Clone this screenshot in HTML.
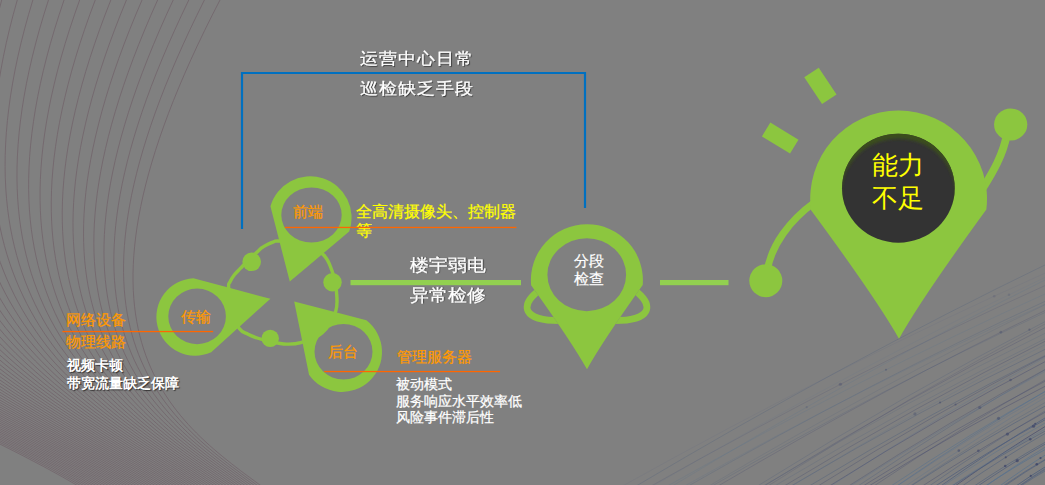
<!DOCTYPE html>
<html><head><meta charset="utf-8"><style>
html,body{margin:0;padding:0;}
body{width:1045px;height:485px;overflow:hidden;background:#808080;position:relative;font-family:"Liberation Sans",sans-serif;}
svg{position:absolute;left:0;top:0;}
.t{position:absolute;white-space:nowrap;line-height:1;}
</style></head><body>
<svg width="1045" height="485" viewBox="0 0 1045 485">
<g fill="none" stroke="#6b5660" stroke-width="0.75" opacity="0.7"><path d="M220,0 C47.4,331.9 169.3,418.8 262.7,487"/><path d="M204.41,0 C38.12,330.51 164.74,418.14 259.6,487"/><path d="M188.81,0 C28.84,329.12 160.17,417.48 256.51,487"/><path d="M173.22,0 C19.57,327.74 155.61,416.83 253.41,487"/><path d="M157.63,0 C10.29,326.35 151.04,416.17 250.31,487"/><path d="M142.03,0 C1.01,324.96 146.48,415.51 247.22,487"/><path d="M126.44,0 C-8.27,323.57 141.91,414.85 244.12,487"/><path d="M110.85,0 C-17.55,322.18 137.35,414.2 241.02,487"/><path d="M95.25,0 C-26.82,320.79 132.78,413.54 237.93,487"/><path d="M79.66,0 C-36.1,319.41 128.22,412.88 234.83,487"/><path d="M64.07,0 C-45.38,318.02 123.66,412.22 231.73,487"/><path d="M48.47,0 C-54.66,316.63 119.09,411.57 228.64,487"/><path d="M32.88,0 C-63.94,315.24 114.53,410.91 225.54,487"/><path d="M17.29,0 C-73.21,313.85 109.96,410.25 222.44,487"/><path d="M1.69,0 C-82.49,312.47 105.4,409.59 219.35,487"/><path d="M-13.9,0 C-91.77,311.08 100.83,408.94 216.25,487"/><path d="M-29.49,0 C-101.05,309.69 96.27,408.28 213.15,487"/><path d="M-45.08,0 C-110.33,308.3 91.71,407.62 210.06,487"/><path d="M-60.68,0 C-119.6,306.91 87.14,406.96 206.96,487"/><path d="M-76.27,0 C-128.88,305.53 82.58,406.31 203.86,487"/><path d="M-91.86,0 C-138.16,304.14 78.01,405.65 200.77,487"/><path d="M-107.46,0 C-147.44,302.75 73.45,404.99 197.67,487"/><path d="M-123.05,0 C-156.72,301.36 68.88,404.33 194.57,487"/><path d="M-138.64,0 C-165.99,299.97 64.32,403.67 191.48,487"/><path d="M-154.24,0 C-175.27,298.58 59.75,403.02 188.38,487"/><path d="M-169.83,0 C-184.55,297.2 55.19,402.36 185.28,487"/><path d="M-185.42,0 C-193.83,295.81 50.63,401.7 182.19,487"/><path d="M-201.02,0 C-203.11,294.42 46.06,401.04 179.09,487"/><path d="M-216.61,0 C-212.38,293.03 41.5,400.39 175.99,487"/><path d="M-232.2,0 C-221.66,291.64 36.93,399.73 172.9,487"/><path d="M-247.8,0 C-230.94,290.26 32.37,399.07 169.8,487"/><path d="M-263.39,0 C-240.22,288.87 27.8,398.41 166.71,487"/><path d="M-278.98,0 C-249.49,287.48 23.24,397.76 163.61,487"/><path d="M-294.58,0 C-258.77,286.09 18.67,397.1 160.51,487"/><path d="M-310.17,0 C-268.05,284.7 14.11,396.44 157.42,487"/><path d="M-325.76,0 C-277.33,283.32 9.55,395.78 154.32,487"/><path d="M-341.36,0 C-286.61,281.93 4.98,395.13 151.22,487"/><path d="M-356.95,0 C-295.88,280.54 0.42,394.47 148.13,487"/><path d="M-372.54,0 C-305.16,279.15 -4.15,393.81 145.03,487"/><path d="M-388.14,0 C-314.44,277.76 -8.71,393.15 141.93,487"/><path d="M-403.73,0 C-323.72,276.37 -13.28,392.49 138.84,487"/><path d="M-419.32,0 C-333,274.99 -17.84,391.84 135.74,487"/><path d="M-434.92,0 C-342.27,273.6 -22.41,391.18 132.64,487"/><path d="M-450.51,0 C-351.55,272.21 -26.97,390.52 129.55,487"/><path d="M-466.1,0 C-360.83,270.82 -31.53,389.86 126.45,487"/><path d="M-481.69,0 C-370.11,269.43 -36.1,389.21 123.35,487"/><path d="M-497.29,0 C-379.39,268.05 -40.66,388.55 120.26,487"/><path d="M-512.88,0 C-388.66,266.66 -45.23,387.89 117.16,487"/><path d="M-528.47,0 C-397.94,265.27 -49.79,387.23 114.06,487"/><path d="M-544.07,0 C-407.22,263.88 -54.36,386.58 110.97,487"/><path d="M-559.66,0 C-416.5,262.49 -58.92,385.92 107.87,487"/><path d="M-575.25,0 C-425.78,261.11 -63.48,385.26 104.77,487"/><path d="M-590.85,0 C-435.05,259.72 -68.05,384.6 101.68,487"/><path d="M-606.44,0 C-444.33,258.33 -72.61,383.95 98.58,487"/><path d="M-622.03,0 C-453.61,256.94 -77.18,383.29 95.48,487"/><path d="M-637.63,0 C-462.89,255.55 -81.74,382.63 92.39,487"/><path d="M-653.22,0 C-472.17,254.16 -86.31,381.97 89.29,487"/><path d="M-668.81,0 C-481.44,252.78 -90.87,381.32 86.19,487"/><path d="M-684.41,0 C-490.72,251.39 -95.44,380.66 83.1,487"/><path d="M-700,0 C-500,250 -100,380 80,487"/></g>
<g fill="none"><path d="M634.48,487 Q850.12,359.08 1047,263.99" stroke="#4f5f7c" stroke-opacity="0.30" stroke-width="1.0"/><path d="M620.71,487 Q843.4,362.92 1047,272.26" stroke="#4f5f7c" stroke-opacity="0.19" stroke-width="0.6"/><path d="M651.5,487 Q858.21,366.06 1047,276.48" stroke="#55708e" stroke-opacity="0.19" stroke-width="0.6"/><path d="M670.68,487 Q867.44,367.96 1047,279.01" stroke="#55708e" stroke-opacity="0.22" stroke-width="1.0"/><path d="M649.31,487 Q857.08,370.23 1047,284.7" stroke="#4a4f70" stroke-opacity="0.36" stroke-width="0.6"/><path d="M665.67,487 Q864.89,375.07 1047,293.08" stroke="#55708e" stroke-opacity="0.37" stroke-width="0.6"/><path d="M686.59,487 Q874.91,379.51 1047,300.43" stroke="#4f5f7c" stroke-opacity="0.27" stroke-width="1.0"/><path d="M682.85,487 Q873.08,380.89 1047,303.33" stroke="#55708e" stroke-opacity="0.29" stroke-width="0.7"/><path d="M707.29,487 Q884.87,381.87 1047,303.75" stroke="#4f5f7c" stroke-opacity="0.27" stroke-width="0.7"/><path d="M716.4,487 Q889.2,385.18 1047,309.62" stroke="#4a4f70" stroke-opacity="0.34" stroke-width="0.8"/><path d="M710.34,487 Q886.26,385.98 1047,311.53" stroke="#4f5f7c" stroke-opacity="0.41" stroke-width="0.6"/><path d="M766.34,487 Q913.17,393.58 1047,322.91" stroke="#4a4f70" stroke-opacity="0.32" stroke-width="0.7"/><path d="M755.9,487 Q908.16,392.05 1047,320.58" stroke="#4f5f7c" stroke-opacity="0.41" stroke-width="0.7"/><path d="M762.24,487 Q911.16,395.37 1047,326.62" stroke="#4a4f70" stroke-opacity="0.44" stroke-width="0.7"/><path d="M761.64,487 Q910.81,398.32 1047,332.36" stroke="#4f5f7c" stroke-opacity="0.35" stroke-width="0.6"/><path d="M772.88,487 Q916.18,401.49 1047,337.83" stroke="#4f5f7c" stroke-opacity="0.39" stroke-width="0.6"/><path d="M782.48,487 Q920.79,403.08 1047,340.33" stroke="#4a4f70" stroke-opacity="0.36" stroke-width="1.0"/><path d="M790.25,487 Q924.51,405.04 1047,343.66" stroke="#55708e" stroke-opacity="0.34" stroke-width="0.6"/><path d="M789.31,487 Q924.01,407.48 1047,348.44" stroke="#4f5f7c" stroke-opacity="0.49" stroke-width="0.8"/><path d="M807.59,487 Q932.77,411.2 1047,354.55" stroke="#4f5f7c" stroke-opacity="0.43" stroke-width="1.0"/><path d="M816.36,487 Q936.99,411.83 1047,355.25" stroke="#4a4f70" stroke-opacity="0.49" stroke-width="0.8"/><path d="M829.37,487 Q943.26,412.77 1047,356.31" stroke="#55708e" stroke-opacity="0.47" stroke-width="0.6"/><path d="M827.81,487 Q942.47,414.95 1047,360.61" stroke="#4a4f70" stroke-opacity="0.47" stroke-width="1.0"/><path d="M847.06,487 Q951.68,419.59 1047,368.45" stroke="#4a4f70" stroke-opacity="0.53" stroke-width="0.7"/><path d="M856.46,487 Q956.21,420 1047,368.7" stroke="#4f5f7c" stroke-opacity="0.53" stroke-width="0.7"/><path d="M848.82,487 Q952.51,420.62 1047,370.34" stroke="#55708e" stroke-opacity="0.47" stroke-width="0.7"/><path d="M861.46,487 Q958.51,426.14 1047,380.26" stroke="#4a4f70" stroke-opacity="0.54" stroke-width="0.8"/><path d="M872.41,487 Q963.81,425.74 1047,378.86" stroke="#4a4f70" stroke-opacity="0.52" stroke-width="0.7"/><path d="M867.27,487 Q961.26,428.92 1047,385.3" stroke="#4a4f70" stroke-opacity="0.60" stroke-width="0.8"/><path d="M889.51,487 Q971.95,432.22 1047,390.38" stroke="#55708e" stroke-opacity="0.51" stroke-width="1.0"/><path d="M895.29,487 Q974.74,432.36 1047,390.31" stroke="#55708e" stroke-opacity="0.52" stroke-width="1.0"/><path d="M895.77,487 Q974.95,433.82 1047,393.1" stroke="#55708e" stroke-opacity="0.53" stroke-width="0.6"/><path d="M904.22,487 Q978.99,435.82 1047,396.47" stroke="#55708e" stroke-opacity="0.53" stroke-width="0.6"/><path d="M908.57,487 Q981.04,438.51 1047,401.41" stroke="#4f5f7c" stroke-opacity="0.54" stroke-width="0.6"/><path d="M909.45,487 Q981.43,440.42 1047,405.04" stroke="#4f5f7c" stroke-opacity="0.69" stroke-width="0.8"/><path d="M927.85,487 Q990.26,443.46 1047,409.85" stroke="#4f5f7c" stroke-opacity="0.64" stroke-width="0.7"/><path d="M920.92,487 Q986.9,443.96 1047,411.22" stroke="#4a4f70" stroke-opacity="0.59" stroke-width="0.8"/><path d="M939.29,487 Q995.72,447.39 1047,416.77" stroke="#4f5f7c" stroke-opacity="0.74" stroke-width="1.0"/><path d="M933.91,487 Q993.1,448.22 1047,418.68" stroke="#4f5f7c" stroke-opacity="0.74" stroke-width="1.0"/><path d="M941.3,487 Q996.63,450.15 1047,421.98" stroke="#55708e" stroke-opacity="0.64" stroke-width="0.7"/><path d="M953.59,487 Q1002.53,452.26 1047,425.35" stroke="#4a4f70" stroke-opacity="0.77" stroke-width="1.0"/><path d="M949.65,487 Q1000.6,453.53 1047,428.03" stroke="#55708e" stroke-opacity="0.64" stroke-width="0.7"/><path d="M950.53,487 Q1001.01,454.62 1047,430.07" stroke="#4f5f7c" stroke-opacity="0.75" stroke-width="0.8"/><path d="M960.66,487 Q1005.87,456.08 1047,432.32" stroke="#4f5f7c" stroke-opacity="0.70" stroke-width="0.8"/><path d="M972.75,487 Q1011.62,461.08 1047,441.25" stroke="#4f5f7c" stroke-opacity="0.75" stroke-width="0.8"/><path d="M976.35,487 Q1013.34,462.09 1047,443.01" stroke="#4f5f7c" stroke-opacity="0.74" stroke-width="1.0"/><path d="M983.75,487 Q1016.85,465.15 1047,448.48" stroke="#55708e" stroke-opacity="0.70" stroke-width="1.0"/><path d="M984.59,487 Q1017.29,463.92 1047,446.07" stroke="#55708e" stroke-opacity="0.75" stroke-width="0.8"/><path d="M998.35,487 Q1023.85,468.41 1047,453.93" stroke="#55708e" stroke-opacity="0.83" stroke-width="0.8"/><path d="M1003.18,487 Q1026.13,471.08 1047,458.81" stroke="#4f5f7c" stroke-opacity="0.86" stroke-width="0.7"/><path d="M1001.5,487 Q1025.33,470.75 1047,458.27" stroke="#4f5f7c" stroke-opacity="0.88" stroke-width="0.7"/><path d="M1014.54,487 Q1031.55,475.03 1047,465.77" stroke="#4f5f7c" stroke-opacity="0.84" stroke-width="1.0"/><path d="M1017.72,487 Q1033.06,476.01 1047,467.48" stroke="#4f5f7c" stroke-opacity="0.79" stroke-width="0.8"/><path d="M1019.43,487 Q1033.87,477.32 1047,469.91" stroke="#4f5f7c" stroke-opacity="0.93" stroke-width="0.6"/><path d="M1018.21,487 Q1033.29,476.56 1047,468.51" stroke="#4f5f7c" stroke-opacity="0.96" stroke-width="0.6"/></g>
<g fill="#3f4668"><circle cx="994.18" cy="296.19" r="1.3" fill-opacity="0.19"/><circle cx="1008.99" cy="294.75" r="1.3" fill-opacity="0.19"/><circle cx="806.71" cy="407.13" r="1.1" fill-opacity="0.22"/><circle cx="840.4" cy="384.27" r="1.6" fill-opacity="0.36"/><circle cx="885.98" cy="369.75" r="1.1" fill-opacity="0.37"/><circle cx="1000.84" cy="332.13" r="1.3" fill-opacity="0.34"/><circle cx="1029.45" cy="329.68" r="1.1" fill-opacity="0.41"/><circle cx="914.94" cy="413.89" r="1.6" fill-opacity="0.34"/><circle cx="940.04" cy="402.49" r="1.1" fill-opacity="0.49"/><circle cx="955.53" cy="404.48" r="1.1" fill-opacity="0.49"/><circle cx="1010.55" cy="379.93" r="1.3" fill-opacity="0.47"/><circle cx="979.77" cy="407.48" r="1.6" fill-opacity="0.47"/><circle cx="998.51" cy="418.3" r="1.6" fill-opacity="0.51"/><circle cx="958.83" cy="450.61" r="1.3" fill-opacity="0.53"/><circle cx="1007.48" cy="434.03" r="1.6" fill-opacity="0.64"/><circle cx="978.36" cy="450.81" r="1.3" fill-opacity="0.59"/><circle cx="1035.25" cy="423.86" r="1.1" fill-opacity="0.74"/><circle cx="1033.54" cy="426.16" r="1.6" fill-opacity="0.74"/><circle cx="1030.21" cy="439.21" r="1.3" fill-opacity="0.75"/><circle cx="1005.77" cy="457.29" r="1.1" fill-opacity="0.70"/><circle cx="1005.21" cy="466.04" r="1.3" fill-opacity="0.75"/><circle cx="1017.2" cy="460.64" r="1.6" fill-opacity="0.74"/><circle cx="1040.53" cy="458.03" r="1.1" fill-opacity="0.83"/><circle cx="1036.79" cy="464.29" r="1.3" fill-opacity="0.88"/><circle cx="1030.77" cy="475.96" r="1.1" fill-opacity="0.84"/></g>
<path d="M242,229 V73 H585 V208" fill="none" stroke="#0070C0" stroke-width="2.2" stroke-linejoin="miter"/>
<path d="M228.6,286.8 C228.4,282.17 228.83,284.2 229.8,282.2 C230.77,280.2 232.6,277.13 234.4,274.8 C236.2,272.47 238.17,270.75 240.6,268.2 C243.03,265.65 246.18,262.23 249,259.5 C251.82,256.77 255.47,253.7 257.5,251.8 C259.53,249.9 259.55,249.33 261.2,248.1 C262.85,246.87 265.33,245.43 267.4,244.4 C269.47,243.37 271.85,242.47 273.6,241.9 C275.35,241.33 273.5,240.82 277.9,241 C282.3,241.18 292.4,240.68 300,243 C307.6,245.32 318.13,250.17 323.5,254.9 C328.87,259.63 330.37,266.88 332.2,271.4 C334.03,275.92 333.78,278.63 334.5,282 C335.22,285.37 336.3,286.7 336.5,291.6 C336.7,296.5 338.12,304.5 335.7,311.4 C333.28,318.3 327.82,327.8 322,333 C316.18,338.2 306.75,340.75 300.8,342.6 C294.85,344.45 291.4,344.28 286.3,344.1 C281.2,343.92 275.05,342.52 270.2,341.5 C265.35,340.48 260.9,339.22 257.2,338 C253.5,336.78 250.95,335.73 248,334.2 C245.05,332.67 242.33,332.83 239.5,328.8 C236.67,324.77 232.82,317 231,310 C229.18,303 228.8,291.43 228.6,286.8 Z" fill="none" stroke="#8CC63F" stroke-width="3.4"/>
<circle cx="251.7" cy="261.8" r="9.3" fill="#8CC63F"/>
<circle cx="332.5" cy="282.2" r="9.2" fill="#8CC63F"/>
<circle cx="270.2" cy="338.4" r="8.7" fill="#8CC63F"/>
<path fill="#8CC63F" fill-rule="evenodd" d="M270.44,206.36 A41.35,41.35 0 1 1 349.18,231.49 Q319.49,256.55 289.8,281.6 Q280.12,243.98 270.44,206.36 Z M281.3,215 A30.2,27.5 0 1 0 341.7,215 A30.2,27.5 0 1 0 281.3,215 Z"/>
<path fill="#8CC63F" fill-rule="evenodd" d="M211.2,352.19 A38.7,38.7 0 1 1 193.35,278.34 Q231.88,288.57 270.4,298.8 Q240.8,325.5 211.2,352.19 Z M168.3,316.4 A28.8,27.8 0 1 0 225.9,316.4 A28.8,27.8 0 1 0 168.3,316.4 Z"/>
<path fill="#8CC63F" fill-rule="evenodd" d="M366.36,320.27 A40,40 0 1 1 309.03,374.65 Q301.61,338.12 294.2,301.6 Q330.28,310.94 366.36,320.27 Z M314.5,351.7 A29,27.8 0 1 0 372.5,351.7 A29,27.8 0 1 0 314.5,351.7 Z"/>
<rect x="350.5" y="280" width="170.5" height="5.2" fill="#92D050"/>
<rect x="660" y="280" width="68.5" height="5.2" fill="#92D050"/>
<defs><mask id="orb" maskUnits="userSpaceOnUse" x="0" y="0" width="1045" height="485"><rect width="1045" height="485" fill="#fff"/><path fill="#000" d="M531.12,285.14 A56,56 0 1 1 642.69,285.02 Q601.53,342.9 587,369.3 Q572.41,342.94 531.12,285.14 Z"/></mask></defs>
<defs><clipPath id="cl"><rect x="0" y="0" width="587" height="485"/></clipPath><clipPath id="cr"><rect x="587" y="0" width="458" height="485"/></clipPath></defs>
<g mask="url(#orb)" fill="none" stroke="#8CC63F" stroke-width="6.7"><g clip-path="url(#cl)"><ellipse cx="0" cy="0" rx="75.3" ry="24.6" transform="translate(600,289.5) rotate(-15.4)"/></g><g clip-path="url(#cr)"><ellipse cx="0" cy="0" rx="75.3" ry="24.6" transform="translate(1174,0) scale(-1,1) translate(600,289.5) rotate(-15.4)"/></g></g>
<path fill="#8CC63F" fill-rule="evenodd" d="M531.12,285.14 A56,56 0 1 1 642.69,285.02 Q601.53,342.9 587,369.3 Q572.41,342.94 531.12,285.14 Z M547.4,274.7 A39.35,36.4 0 1 0 626.1,274.7 A39.35,36.4 0 1 0 547.4,274.7 Z"/>
<path d="M767,272 C771,245 790,220 815,202" fill="none" stroke="#8CC63F" stroke-width="7"/>
<circle cx="765.8" cy="280.7" r="16.5" fill="#8CC63F"/>
<path d="M983,188 C993,172 1003,155 1007,134" fill="none" stroke="#8CC63F" stroke-width="7.8"/>
<ellipse cx="1010.7" cy="124.5" rx="16.6" ry="16" fill="#8CC63F"/>
<path fill="#8CC63F" d="M810.89,210.02 A88.4,88.4 0 1 1 986.37,209.52 Q921.87,297.94 899,338.7 Q875.9,298.07 810.89,210.02 Z"/>
<defs><radialGradient id="dk" cx="0.5" cy="0.5" r="0.5"><stop offset="0.9" stop-color="#333"/><stop offset="1" stop-color="#333"/></radialGradient></defs>
<defs><clipPath id="dc"><ellipse cx="898.4" cy="188.2" rx="56.4" ry="54.5"/></clipPath><filter id="bl" x="-20%" y="-20%" width="140%" height="140%"><feGaussianBlur stdDeviation="1.6"/></filter></defs>
<ellipse cx="898.4" cy="188.2" rx="56.4" ry="54.5" fill="#333333"/>
<g clip-path="url(#dc)"><path filter="url(#bl)" fill="#3b4d1f" fill-rule="evenodd" d="M830,120 H970 V260 H830 Z M841.4,193.2 A57,54.5 0 1 0 955.4,193.2 A57,54.5 0 1 0 841.4,193.2 Z"/></g>
<rect x="-16.1" y="-8.7" width="32.2" height="17.4" fill="#8CC63F" transform="translate(820.4,85.85) rotate(56.4)"/>
<rect x="-16.4" y="-8.1" width="32.9" height="16.2" fill="#8CC63F" transform="translate(780.15,138.05) rotate(31.3)"/>
</svg>
<div class="t" style="left:360px;top:51px;font-size:18.5px;color:#fff;font-weight:normal;text-shadow:1px 1px 1px rgba(0,0,0,0.6);transform:scaleY(0.89);transform-origin:0 0;-webkit-text-stroke:0.35px #fff;">运营中心日常</div><div class="t" style="left:360px;top:81px;font-size:18.5px;color:#fff;font-weight:normal;text-shadow:1px 1px 1px rgba(0,0,0,0.6);transform:scaleY(0.89);transform-origin:0 0;-webkit-text-stroke:0.35px #fff;">巡检缺乏手段</div><div class="t" style="left:293px;top:203.5px;font-size:15px;color:#FF9900;font-weight:normal;-webkit-text-stroke:0.25px #FF9900;">前端</div><div class="t" style="left:356px;top:202px;font-size:16px;color:#FFFF00;font-weight:normal;-webkit-text-stroke:0.25px #FFFF00;line-height:19px;">全高清摄像头、控制器<br>等</div><div class="t" style="left:180.5px;top:309px;font-size:15px;color:#FF9900;font-weight:normal;-webkit-text-stroke:0.25px #FF9900;">传输</div><div class="t" style="left:328px;top:344px;font-size:15px;color:#FF9900;font-weight:normal;-webkit-text-stroke:0.25px #FF9900;">后台</div><div class="t" style="left:65.5px;top:313px;font-size:14.6px;color:#FF9900;font-weight:normal;-webkit-text-stroke:0.25px #FF9900;">网络设备</div><div class="t" style="left:65.5px;top:335px;font-size:14.6px;color:#FF9900;font-weight:normal;-webkit-text-stroke:0.25px #FF9900;">物理线路</div><div class="t" style="left:67px;top:357px;font-size:13.6px;color:#fff;font-weight:bold;text-shadow:1px 1px 1px rgba(0,0,0,0.6);line-height:18px;">视频卡顿<br>带宽流量缺乏保障</div><div class="t" style="left:396.5px;top:350px;font-size:14.5px;color:#FF9900;font-weight:normal;-webkit-text-stroke:0.25px #FF9900;">管理服务器</div><div class="t" style="left:396px;top:376px;font-size:14.2px;color:#fff;font-weight:normal;line-height:16.6px;-webkit-text-stroke:0.25px #fff;">被动模式<br>服务响应水平效率低<br>风险事件滞后性</div><div class="t" style="left:409.5px;top:256.5px;font-size:18.5px;color:#fff;font-weight:normal;text-shadow:1px 1px 1px rgba(0,0,0,0.6);transform:scaleY(0.9);transform-origin:0 0;-webkit-text-stroke:0.35px #fff;">楼宇弱电</div><div class="t" style="left:409.5px;top:287px;font-size:18.5px;color:#fff;font-weight:normal;text-shadow:1px 1px 1px rgba(0,0,0,0.6);transform:scaleY(0.9);transform-origin:0 0;-webkit-text-stroke:0.35px #fff;">异常检修</div><div class="t" style="left:573.5px;top:252px;font-size:15px;color:#fff;font-weight:normal;line-height:17.5px;-webkit-text-stroke:0.2px #fff;">分段<br>检查</div><div class="t" style="left:872px;top:149px;font-size:26px;color:#FFFF00;font-weight:normal;line-height:32.5px;">能力<br>不足</div>
<svg width="1045" height="485" viewBox="0 0 1045 485"><g fill="#FF6600"><rect x="284.8" y="226.8" width="231.6" height="1.3"/><rect x="62.4" y="330.9" width="150.7" height="1.3"/><rect x="324.2" y="370.9" width="175.8" height="1.3"/></g></svg>
</body></html>
